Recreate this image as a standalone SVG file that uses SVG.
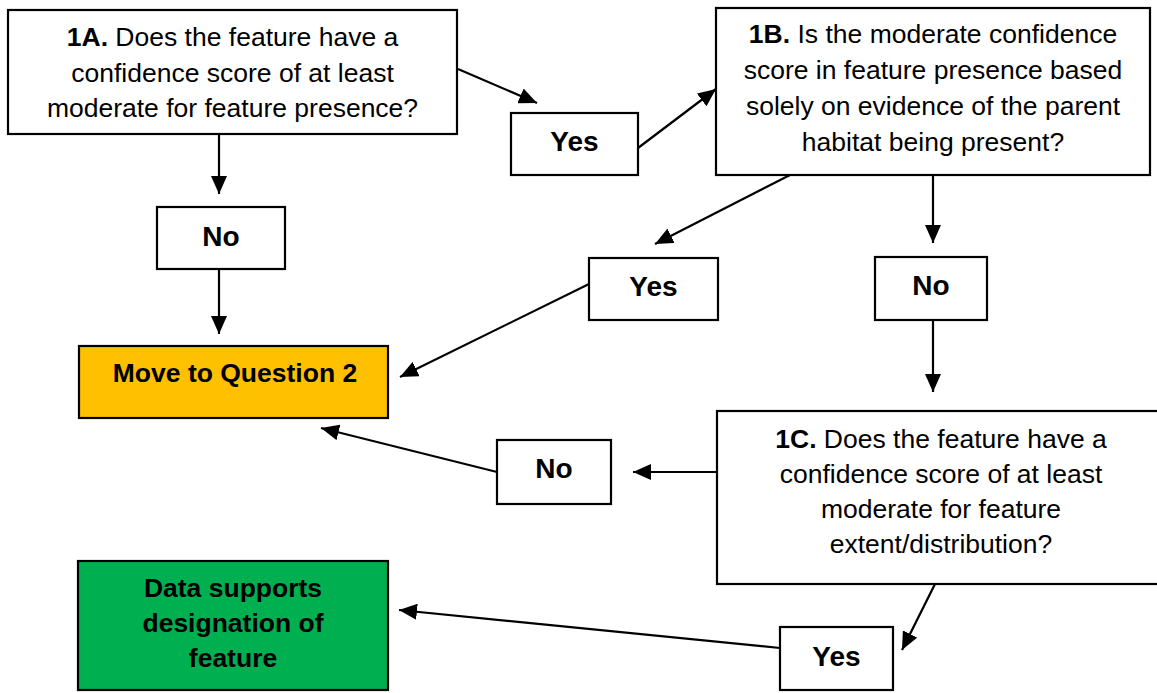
<svg xmlns="http://www.w3.org/2000/svg" width="1157" height="693" viewBox="0 0 1157 693">
  <style>
    .box { fill: #ffffff; stroke: #000000; stroke-width: 2.2; }
    .amber { fill: #FFC000; }
    .green { fill: #00B050; }
    .q { font-family: "Liberation Sans", Arial, sans-serif; font-size: 26.5px; fill: #000; text-anchor: middle; }
    .b { font-weight: bold; }
    .lbl { font-family: "Liberation Sans", Arial, sans-serif; font-size: 28px; font-weight: bold; fill: #000; text-anchor: middle; }
    .conn { stroke: #000; stroke-width: 2.2; fill: none; marker-end: url(#arrow); }
    .plain { stroke: #000; stroke-width: 2.2; fill: none; }
  </style>
  <defs>
    <marker id="arrow" markerUnits="userSpaceOnUse" markerWidth="20" markerHeight="16" refX="18" refY="8" orient="auto">
      <path d="M0,0 L18,8 L0,16 Z" fill="#000"/>
    </marker>
  </defs>

  <rect width="1157" height="693" fill="#ffffff"/>

  <!-- connectors -->
  <g id="connectors">
    <line class="conn" x1="458" y1="69" x2="537" y2="103"/>
    <line class="conn" x1="638" y1="148" x2="716" y2="89"/>
    <line class="conn" x1="219" y1="134" x2="219" y2="194"/>
    <line class="conn" x1="219" y1="269" x2="219" y2="334"/>
    <line class="conn" x1="790" y1="175" x2="655" y2="244"/>
    <line class="conn" x1="933" y1="175" x2="933" y2="243"/>
    <line class="conn" x1="589" y1="284" x2="400" y2="377"/>
    <line class="conn" x1="933" y1="320" x2="933" y2="392"/>
    <line class="conn" x1="717" y1="472" x2="633" y2="472"/>
    <line class="conn" x1="497" y1="472" x2="321" y2="428"/>
    <line class="conn" x1="935" y1="584" x2="902" y2="650"/>
    <line class="conn" x1="780" y1="648" x2="399" y2="610"/>
  </g>

  <!-- question 1A -->
  <g id="q1a">
    <rect class="box" x="8" y="10" width="449" height="124"/>
    <text class="q" x="232.5" y="46"><tspan class="b">1A.</tspan> Does the feature have a</text>
    <text class="q" x="232.5" y="82">confidence score of at least</text>
    <text class="q" x="232.5" y="117">moderate for feature presence?</text>
  </g>

  <!-- answer Yes after 1A -->
  <g id="yes1">
    <rect class="box" x="511" y="113" width="127" height="62"/>
    <text class="lbl" x="574.5" y="151">Yes</text>
  </g>

  <!-- question 1B -->
  <g id="q1b">
    <rect class="box" x="716" y="8" width="434" height="167"/>
    <text class="q" x="933" y="43"><tspan class="b">1B.</tspan> Is the moderate confidence</text>
    <text class="q" x="933" y="79">score in feature presence based</text>
    <text class="q" x="933" y="115">solely on evidence of the parent</text>
    <text class="q" x="933" y="151">habitat being present?</text>
  </g>

  <!-- answer No after 1A -->
  <g id="no1">
    <rect class="box" x="157" y="207" width="128" height="62"/>
    <text class="lbl" x="221" y="246">No</text>
  </g>

  <!-- answer Yes after 1B -->
  <g id="yes2">
    <rect class="box" x="589" y="258" width="129" height="62"/>
    <text class="lbl" x="653.5" y="296">Yes</text>
  </g>

  <!-- answer No after 1B -->
  <g id="no2">
    <rect class="box" x="875" y="257" width="112" height="63"/>
    <text class="lbl" x="931" y="295">No</text>
  </g>

  <!-- outcome: move on -->
  <g id="move">
    <rect class="box amber" x="79" y="346" width="309" height="72"/>
    <text class="q b" x="235" y="382">Move to Question 2</text>
  </g>

  <!-- question 1C -->
  <g id="q1c">
    <rect class="box" x="717" y="411" width="460" height="173"/>
    <text class="q" x="941" y="448"><tspan class="b">1C.</tspan> Does the feature have a</text>
    <text class="q" x="941" y="483">confidence score of at least</text>
    <text class="q" x="941" y="518">moderate for feature</text>
    <text class="q" x="941" y="553">extent/distribution?</text>
  </g>

  <!-- answer No after 1C -->
  <g id="no3">
    <rect class="box" x="497" y="440" width="114" height="64"/>
    <text class="lbl" x="554" y="478">No</text>
  </g>

  <!-- answer Yes after 1C -->
  <g id="yes3">
    <rect class="box" x="780" y="627" width="113" height="63"/>
    <text class="lbl" x="836.5" y="666">Yes</text>
  </g>

  <!-- outcome: designation supported -->
  <g id="supports">
    <rect class="box green" x="78" y="561" width="310" height="129"/>
    <text class="q b" x="233" y="597">Data supports</text>
    <text class="q b" x="233" y="632">designation of</text>
    <text class="q b" x="233" y="667">feature</text>
  </g>
</svg>
